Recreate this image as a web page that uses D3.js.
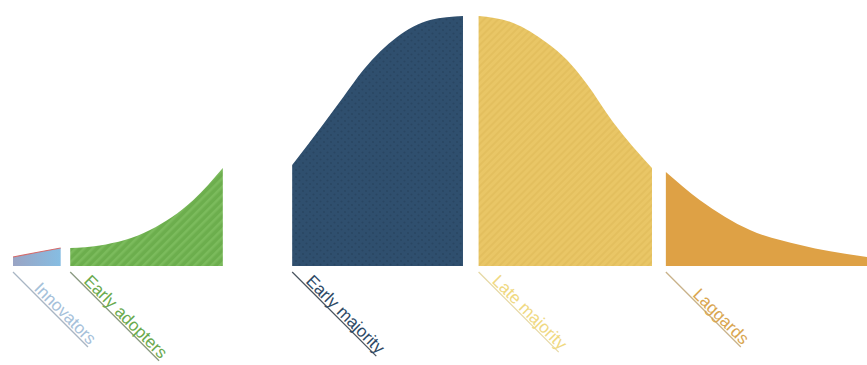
<!DOCTYPE html>
<html>
<head>
<meta charset="utf-8">
<script src="https://cdn.jsdelivr.net/npm/d3@7"></script>
<style>
  body { margin: 0; background: #fff; }
  svg { display: block; }
  text { font-family: "Liberation Sans", Arial, sans-serif; }
</style>
</head>
<body>
<svg id="chart" width="867" height="365"></svg>
<script>
var width = 867;
var height = 365;

// adopter groups
var categories = ['Innovators', 'Early adopters', 'Early majority', 'Late majority', 'Laggards'];

// curve samples per group: position along axis (0-100) and curve height (0-100)
var innovatorsPos = [1.5, 4.2, 7.0];
var innovatorsVal = [3.6, 5.4, 7.2];
var earlyAdoptersPos = [8.1, 11.5, 17.3, 22.3, 25.7];
var earlyAdoptersVal = [7.2, 8.2, 14.4, 26.4, 39.2];
var earlyMajorityPos = [33.7, 37.3, 39.6, 41.9, 45.8, 49.6, 53.4];
var earlyMajorityVal = [40.4, 56.8, 67.6, 78.4, 91.6, 98.4, 100];
var lateMajorityPos = [55.2, 59.2, 63.1, 65.4, 67.6, 70.7, 75.2];
var lateMajorityVal = [100, 97.2, 89.2, 82.4, 73.2, 57.6, 39.2];
var laggardsPos = [76.8, 80.7, 86.5, 92.3, 100];
var laggardsVal = [37.6, 26.4, 14.4, 8.4, 3.6];

var fills = ['#8db5d8', '#6cae4d', '#2f4f6e', '#e9c666', '#dea145'];
var labelColors = ['#a6c1da', '#6aaa4e', '#2e4a66', '#f0d982', '#d9a650'];
var lineColors = ['#a9b6c4', '#8a9a82', '#4a5560', '#e6d9a6', '#c9b28a'];

var groups = [
  [innovatorsPos, innovatorsVal],
  [earlyAdoptersPos, earlyAdoptersVal],
  [earlyMajorityPos, earlyMajorityVal],
  [lateMajorityPos, lateMajorityVal],
  [laggardsPos, laggardsVal]
].map(function(g, i) {
  return {
    name: categories[i],
    points: g[0].map(function(p, j) { return { pos: p, val: g[1][j] }; })
  };
});

var svg = d3.select('#chart');

var x = d3.scaleLinear().domain([0, 100]).range([0, width]);
var y = d3.scaleLinear().domain([0, 100]).range([266, 16]);

// textures
var defs = svg.append('defs');

var stripes = defs.append('pattern')
  .attr('id', 'stripes-green')
  .attr('width', 6).attr('height', 6)
  .attr('patternUnits', 'userSpaceOnUse')
  .attr('patternTransform', 'rotate(45)');
stripes.append('rect').attr('width', 6).attr('height', 6).attr('fill', fills[1]);
stripes.append('rect').attr('width', 2.5).attr('height', 6).attr('fill', '#7bbb5c');

var stripesY = defs.append('pattern')
  .attr('id', 'stripes-yellow')
  .attr('width', 5).attr('height', 5)
  .attr('patternUnits', 'userSpaceOnUse')
  .attr('patternTransform', 'rotate(45)');
stripesY.append('rect').attr('width', 5).attr('height', 5).attr('fill', fills[3]);
stripesY.append('rect').attr('width', 2).attr('height', 5).attr('fill', '#e3bf5e');

var dotsN = defs.append('pattern')
  .attr('id', 'dots-navy')
  .attr('width', 7).attr('height', 7)
  .attr('patternUnits', 'userSpaceOnUse');
dotsN.append('rect').attr('width', 7).attr('height', 7).attr('fill', fills[2]);
dotsN.append('circle').attr('cx', 2).attr('cy', 2).attr('r', 1.1).attr('fill', '#294662');
dotsN.append('circle').attr('cx', 5.5).attr('cy', 5.5).attr('r', 1.1).attr('fill', '#294662');

var grad = defs.append('linearGradient')
  .attr('id', 'grad-blue')
  .attr('x1', 0).attr('y1', 0).attr('x2', 1).attr('y2', 0);
grad.append('stop').attr('offset', '0%').attr('stop-color', '#9aa4c4');
grad.append('stop').attr('offset', '100%').attr('stop-color', '#86bde2');

var patternFills = ['url(#grad-blue)', 'url(#stripes-green)', 'url(#dots-navy)', 'url(#stripes-yellow)', fills[4]];

var area = d3.area()
  .x(function(d) { return x(d.pos); })
  .y0(y(0))
  .y1(function(d) { return y(d.val); })
  .curve(d3.curveMonotoneX);

var topLine = d3.line()
  .x(function(d) { return x(d.pos); })
  .y(function(d) { return y(d.val); })
  .curve(d3.curveMonotoneX);

var shapes = svg.selectAll('g.group')
  .data(groups)
  .enter()
  .append('g')
  .attr('class', 'group');

shapes.append('path')
  .attr('d', function(d) { return area(d.points); })
  .attr('fill', function(d, i) { return patternFills[i]; });

// thin red edge on the innovators slice
svg.append('path')
  .attr('d', topLine(groups[0].points))
  .attr('fill', 'none')
  .attr('stroke', '#d46a6a')
  .attr('stroke-width', 1.2);

// slanted labels
var labels = shapes.append('g')
  .attr('transform', function(d) {
    return 'translate(' + x(d.points[0].pos) + ',' + (y(0) + 6) + ') rotate(45)';
  });

labels.append('text')
  .attr('class', 'label')
  .attr('font-size', 17)
  .attr('fill', function(d, i) { return labelColors[i]; })
  .attr('y', -2)
  .attr('text-anchor', 'end')
  .text(function(d) { return d.name; });

labels.each(function(d, i) {
  var g = d3.select(this);
  var w = g.select('text').node().getComputedTextLength();
  var len = Math.max(w + 16, 106);
  g.select('text').attr('x', len);
  g.insert('line', 'text')
    .attr('x1', 0).attr('y1', 0)
    .attr('x2', len).attr('y2', 0)
    .attr('stroke', lineColors[i])
    .attr('stroke-width', 1.3);
});
</script>
</body>
</html>
